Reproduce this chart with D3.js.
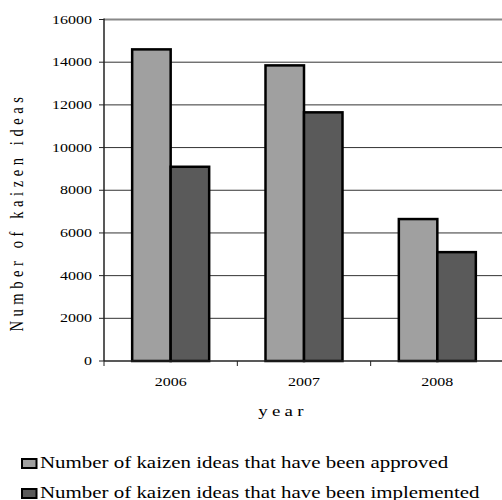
<!DOCTYPE html>
<html><head><meta charset="utf-8">
<script src="https://cdn.jsdelivr.net/npm/d3@7"></script>
<style>body{margin:0;background:#fff}svg{display:block}text{font-family:"Liberation Serif","Times New Roman",serif;fill:#000}</style>
</head><body>
<script>
const years = ["2006", "2007", "2008"];
const approved = [14600, 13850, 6650];
const implemented = [9100, 11650, 5100];
const seriesNames = ["Number of kaizen ideas that have been approved", "Number of kaizen ideas that have been implemented"];
const yTicks = [0, 2000, 4000, 6000, 8000, 10000, 12000, 14000, 16000];

const W = 502, H = 500, SX = 1.3;
const mLeft = 104, mRight = 504, mTop = 19.5, mBottom = 361;
const svg = d3.select("body").append("svg").attr("width", W).attr("height", H);

const y = d3.scaleLinear().domain([0, 16000]).range([mBottom, mTop]);
const x0 = d3.scaleBand().domain(years).range([mLeft, mRight]).paddingInner(0.4225).paddingOuter(0.21125);
const x1 = d3.scaleBand().domain([0, 1]).range([0, x0.bandwidth()]);
const colors = ["#a0a0a0", "#5a5a5a"];

// gridlines
svg.append("g").selectAll("line").data(yTicks.filter(d => d > 0 && d < 16000)).join("line")
  .attr("x1", mLeft).attr("x2", mRight).attr("y1", d => y(d)).attr("y2", d => y(d))
  .attr("stroke", "#333").attr("stroke-width", 1);
// top border
svg.append("line").attr("x1", mLeft).attr("x2", mRight).attr("y1", y(16000)).attr("y2", y(16000))
  .attr("stroke", "#888").attr("stroke-width", 2);

// bars
const data = years.map((yr, i) => ({yr, vals: [approved[i], implemented[i]]}));
const g = svg.append("g").selectAll("g").data(data).join("g")
  .attr("transform", d => `translate(${x0(d.yr)},0)`);
g.selectAll("rect").data(d => d.vals.map((v, k) => ({v, k}))).join("rect")
  .attr("x", d => x1(d.k)).attr("width", x1.bandwidth())
  .attr("y", d => y(d.v)).attr("height", d => y(0) - y(d.v))
  .attr("fill", d => colors[d.k]).attr("stroke", "#000").attr("stroke-width", 2.5);

// y axis
svg.append("line").attr("x1", mLeft).attr("x2", mLeft).attr("y1", mTop - 1).attr("y2", mBottom)
  .attr("stroke", "#222").attr("stroke-width", 1.5);
svg.append("g").selectAll("line").data(yTicks).join("line")
  .attr("x1", mLeft - 5).attr("x2", mLeft).attr("y1", d => y(d)).attr("y2", d => y(d))
  .attr("stroke", "#222").attr("stroke-width", 1);
svg.append("g").selectAll("text").data(yTicks).join("text")
  .attr("transform", d => `translate(${mLeft - 12},${y(d) + 4}) scale(${SX},1)`)
  .attr("text-anchor", "end").style("font-size", "12.3px").text(d => d);

// x axis
svg.append("line").attr("x1", mLeft).attr("x2", mRight).attr("y1", mBottom).attr("y2", mBottom)
  .attr("stroke", "#222").attr("stroke-width", 1.5);
const bounds = [mLeft, ...years.slice(1).map(d => x0(d) - x0.step() * x0.paddingInner() / 2)];
svg.append("g").selectAll("line").data(bounds).join("line")
  .attr("x1", d => d).attr("x2", d => d).attr("y1", mBottom).attr("y2", mBottom + 5)
  .attr("stroke", "#222").attr("stroke-width", 1);
svg.append("g").selectAll("text").data(years).join("text")
  .attr("transform", d => `translate(${x0(d) + x0.bandwidth() / 2},${386}) scale(${SX},1)`)
  .attr("text-anchor", "middle").style("font-size", "12.3px").text(d => d);

// axis titles
svg.append("text").attr("transform", `translate(283,416) scale(${SX},1)`)
  .attr("text-anchor", "middle").style("font-size", "14.5px").style("letter-spacing", "3.3px").text("year");
svg.append("text").attr("transform", `translate(23,212) rotate(-90) scale(1,${SX})`)
  .attr("text-anchor", "middle").style("font-size", "14.5px").style("letter-spacing", "4.6px").text("Number of kaizen ideas");

// legend
const lg = svg.append("g").selectAll("g").data(seriesNames).join("g")
  .attr("transform", (d, i) => `translate(0,${i * 30})`);
lg.append("rect").attr("x", 22).attr("y", 459).attr("width", 14.5).attr("height", 9)
  .attr("fill", (d, i) => colors[i]).attr("stroke", "#000").attr("stroke-width", 2);
lg.append("text").attr("transform", `translate(40,468) scale(${SX},1)`)
  .style("font-size", "16.1px").text(d => d);
</script>
</body></html>
